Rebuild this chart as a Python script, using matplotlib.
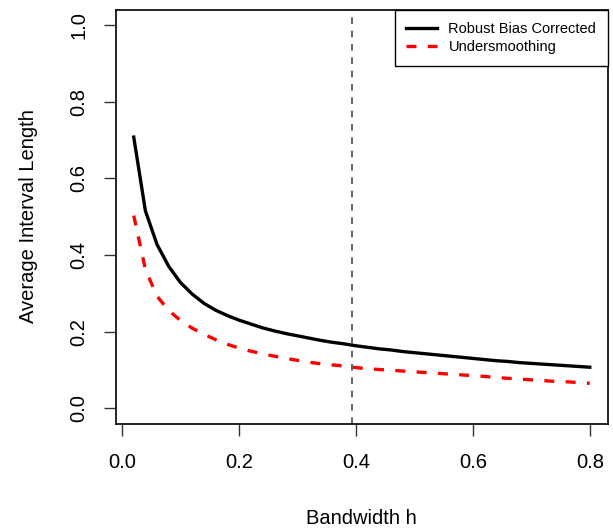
import numpy as np
import matplotlib
matplotlib.use("Agg")
import matplotlib.pyplot as plt

plt.rcParams['font.family'] = ['Liberation Sans', 'DejaVu Sans']

# bandwidth grid and average interval lengths
h = [0.02, 0.04, 0.06, 0.08, 0.10, 0.12, 0.14, 0.16, 0.18, 0.20,
     0.22, 0.24, 0.26, 0.28, 0.30, 0.32, 0.34, 0.36, 0.38, 0.40,
     0.42, 0.44, 0.46, 0.48, 0.50, 0.52, 0.54, 0.56, 0.58, 0.60,
     0.62, 0.64, 0.66, 0.68, 0.70, 0.72, 0.74, 0.76, 0.78, 0.80]
rbc_len = [0.708, 0.515, 0.427, 0.370, 0.328, 0.298, 0.274, 0.256, 0.242, 0.230,
           0.220, 0.210, 0.202, 0.195, 0.189, 0.183, 0.177, 0.172, 0.168, 0.163,
           0.159, 0.155, 0.152, 0.148, 0.145, 0.142, 0.139, 0.136, 0.133, 0.130,
           0.127, 0.124, 0.122, 0.119, 0.117, 0.115, 0.113, 0.111, 0.109, 0.107]
us_len = [0.503, 0.362, 0.292, 0.255, 0.229, 0.209, 0.193, 0.179, 0.167, 0.157,
          0.149, 0.142, 0.136, 0.130, 0.125, 0.120, 0.116, 0.113, 0.110, 0.106,
          0.103, 0.101, 0.099, 0.097, 0.095, 0.093, 0.091, 0.089, 0.087, 0.085,
          0.083, 0.080, 0.078, 0.076, 0.074, 0.072, 0.070, 0.069, 0.067, 0.065]
h_opt = 0.394

W, H = 613, 531
fig = plt.figure(figsize=(W / 100, H / 100), dpi=100)
ax = fig.add_axes([115.5 / W, 1 - 423.5 / H, (608 - 115.5) / W, (423.5 - 10) / H])

ax.plot(h, rbc_len, color='black', lw=2.4, label='Robust Bias Corrected')
ax.plot(h, us_len, color='red', lw=2.4, dashes=(3, 3.4), label='Undersmoothing')
ax.axvline(h_opt, color='0.3', lw=1.2, dashes=(4, 4))

ax.set_xlim(0.02 - 0.04 * 0.78, 0.8 + 0.04 * 0.78)
ax.set_ylim(-0.04, 1.04)
ax.set_xticks([0, 0.2, 0.4, 0.6, 0.8])
ax.set_xticklabels(['0.0', '0.2', '0.4', '0.6', '0.8'])
ax.set_yticks([0, 0.2, 0.4, 0.6, 0.8, 1.0])
ax.set_yticklabels(['0.0', '0.2', '0.4', '0.6', '0.8', '1.0'], rotation=90, va='center')
ax.tick_params(axis='both', length=8.6, width=1, color='#333333', labelsize=14.5, direction='out')
ax.tick_params(axis='x', pad=13)
ax.tick_params(axis='y', pad=11)
for s in ax.spines.values():
    s.set_linewidth(1.2)

fig.text(361.75 / W, 1 - 518 / H, 'Bandwidth h', ha='center', va='center', fontsize=14.5)
fig.text(28 / W, 1 - 216.5 / H, 'Average Interval Length', ha='center', va='center',
         rotation=90, fontsize=14.5)

leg = ax.legend(loc='upper right', bbox_to_anchor=(1, 1), borderaxespad=0,
                fontsize=10.5, frameon=True, fancybox=False, framealpha=1,
                edgecolor='black', handlelength=2.1, handletextpad=0.8,
                borderpad=0.8, labelspacing=0.3)
leg.get_frame().set_linewidth(1.0)

fig.savefig('out.png', dpi=100)
